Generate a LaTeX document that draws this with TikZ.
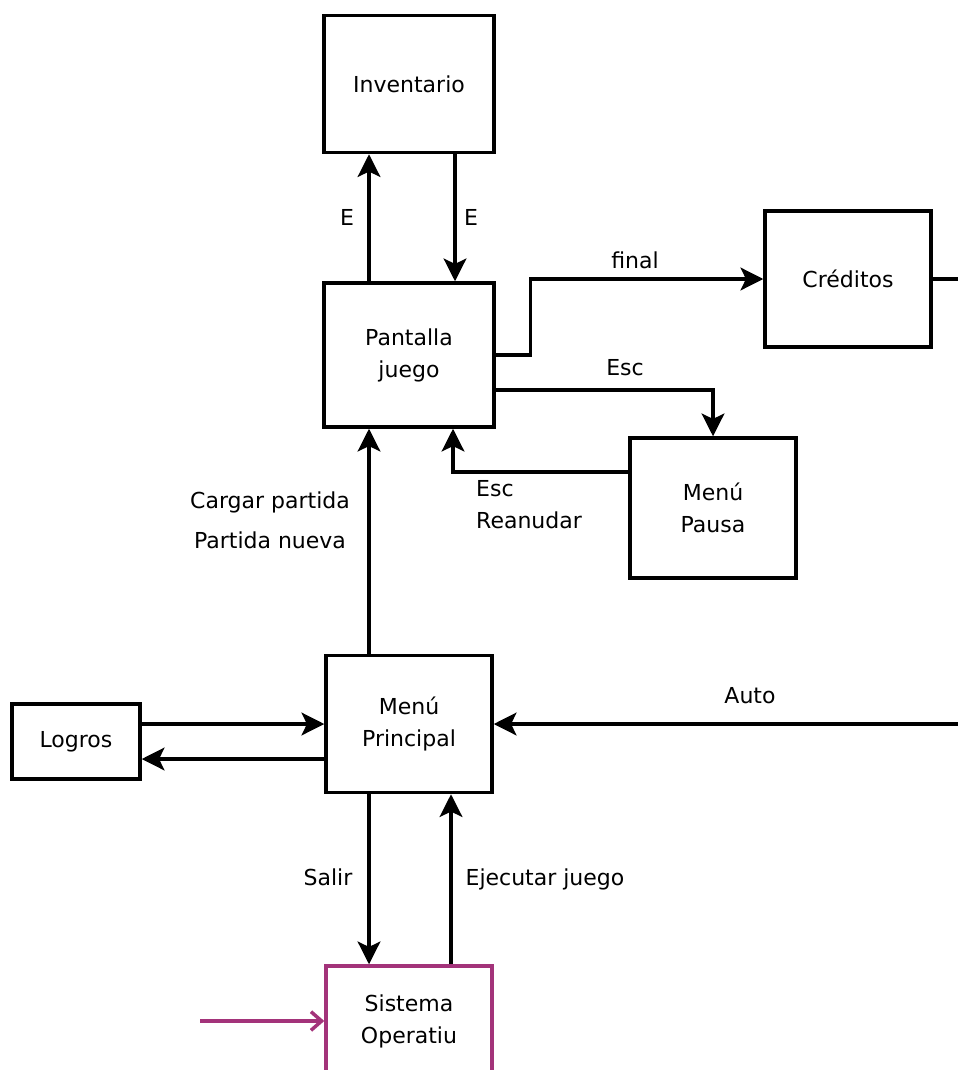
\documentclass[tikz,border=0pt]{standalone}
\usepackage{fontspec}
\setmainfont{DejaVu Sans}
\usepackage{xcolor}
\usetikzlibrary{arrows.meta,calc}
\definecolor{sopink}{RGB}{163,51,122}

\begin{document}
\begin{tikzpicture}[x=0.75pt,y=-0.75pt,line width=2.6pt,font=\fontsize{16.5}{24}\selectfont,
    tip/.style={-{Stealth[length=17pt,width=17pt,inset=4pt]}}]
      \useasboundingbox (0,0) rectangle (958,1070);
      \clip (0,0) rectangle (958,1070);

      \node [draw,rectangle,align=center,minimum width=127.5pt,minimum height=102.75pt] (inv) at (409, 84) {Inventario};
      \node [draw,rectangle,align=center,minimum width=127.5pt,minimum height=108pt] (pant) at (409, 355) {Pantalla\\juego};
      \node [draw,rectangle,align=center,minimum width=124.5pt,minimum height=102pt] (cred) at (848, 279) {Créditos};
      \node [draw,rectangle,align=center,minimum width=124.5pt,minimum height=105pt] (pausa) at (713, 508) {Menú\\Pausa};
      \node [draw,rectangle,align=center,minimum width=124.5pt,minimum height=102.75pt] (princ) at (409, 724) {Menú\\Principal};
      \node [draw,rectangle,align=center,minimum width=96pt,minimum height=56.25pt] (logros) at (76, 741.5) {Logros};
      \node [draw=sopink,rectangle,align=center,minimum width=124.5pt,minimum height=82.5pt] (so) at (409, 1021) {Sistema\\Operatiu};

      \coordinate (credout) at (958, 279);
      \coordinate (autoin) at (958, 724);
      \coordinate (soin) at (200, 1021);

      \draw [tip]  ($(pant.north)+(-40,0)$) -- ($(inv.south)+(-40,0)$);
      \draw [tip]  ($(inv.south)+(46,0)$) -- ($(pant.north)+(46,0)$);
      \draw [tip]  (pant.east) -- ++(35,0) |- (cred.west);
      \draw  (cred.east) -- (credout);
      \draw [tip]  ($(pant.east)+(0,35)$) -| (pausa.north);
      \draw [tip]  ($(pausa.west)+(0,-36)$) -| ($(pant.south)+(44,0)$);
      \draw [tip]  ($(princ.north)+(-40,0)$) -- ($(pant.south)+(-40,0)$);
      \draw [tip]  ($(logros.east)+(0,-17.5)$) -- (princ.west);
      \draw [tip]  ($(princ.west)+(0,35)$) -- ($(logros.east)+(0,17.5)$);
      \draw [tip]  (autoin) -- (princ.east);
      \draw [tip]  ($(princ.south)+(-40,0)$) -- ($(so.north)+(-40,0)$);
      \draw [tip]  ($(so.north)+(42,0)$) -- ($(princ.south)+(42,0)$);
      \draw [-{Straight Barb[length=8pt,width=14pt]},draw=sopink]  (soin) -- (so.west);

      \node (le1) at (347, 217) {E};
      \node (le2) at (471, 217) {E};
      \node (lfinal) at (635, 260) {final};
      \node (lesc) at (625, 368) {Esc};
      \node [align=left,anchor=west] (lreanudar) at (470, 505) {Esc\\Reanudar};
      \node [align=center,font=\fontsize{16.5}{30}\selectfont] (lcargar) at (270, 520) {Cargar partida\\Partida nueva};
      \node (lauto) at (750, 696) {Auto};
      \node (lsalir) at (328, 877) {Salir};
      \node (lejecutar) at (545, 879) {Ejecutar juego};
    \end{tikzpicture}
\end{document}
